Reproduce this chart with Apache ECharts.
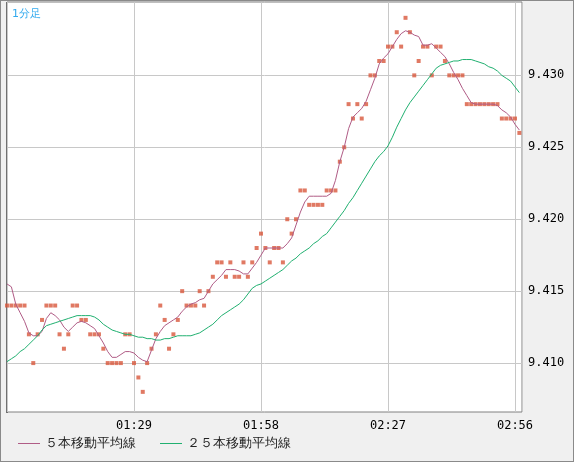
<!DOCTYPE html>
<html><head><meta charset="utf-8">
<script src="https://cdn.jsdelivr.net/npm/echarts@6/dist/echarts.min.js"></script>
<style>html,body{margin:0;padding:0;background:#f0f0f0}#c{width:574px;height:462px;box-sizing:border-box;border:1px solid #8a8a8a}</style>
</head><body><div id="c"></div>
<script>
const closes=[9.414,9.414,9.414,9.414,9.414,9.412,9.410,9.412,9.413,9.414,9.414,9.414,9.412,9.411,9.412,9.414,9.414,9.413,9.413,9.412,
9.412,9.412,9.411,9.410,9.410,9.410,9.410,9.412,9.412,9.410,9.409,9.408,9.410,9.411,9.412,9.414,9.413,9.411,9.412,9.413,
9.415,9.414,9.414,9.414,9.415,9.414,9.415,9.416,9.417,9.417,9.416,9.417,9.416,9.416,9.417,9.416,9.417,9.418,9.419,9.418,
9.417,9.418,9.418,9.417,9.420,9.419,9.420,9.422,9.422,9.421,9.421,9.421,9.421,9.422,9.422,9.422,9.424,9.425,9.428,9.427,
9.428,9.427,9.428,9.430,9.430,9.431,9.431,9.432,9.432,9.433,9.432,9.434,9.433,9.430,9.431,9.432,9.432,9.430,9.432,9.432,
9.431,9.430,9.430,9.430,9.430,9.428,9.428,9.428,9.428,9.428,9.428,9.428,9.428,9.427,9.427,9.427,9.427,9.426];
const ma5=[9.4155,9.4153,9.4141,9.4135,9.4129,9.4121,9.4119,9.4119,9.4122,9.4131,9.4135,9.4133,9.4130,9.4125,9.4122,9.4125,9.4128,9.4129,9.4128,9.4126,
9.4124,9.4119,9.4114,9.4108,9.4104,9.4104,9.4106,9.4108,9.4108,9.4107,9.4104,9.4102,9.4101,9.4109,9.4117,9.4122,9.4126,9.4128,9.4130,9.4132,
9.4136,9.4139,9.4141,9.4142,9.4144,9.4145,9.4150,9.4155,9.4158,9.4161,9.4165,9.4165,9.4165,9.4164,9.4162,9.4162,9.4166,9.4170,9.4175,9.4180,
9.4180,9.4180,9.4180,9.4180,9.4183,9.4187,9.4196,9.4205,9.4212,9.4216,9.4216,9.4216,9.4216,9.4216,9.4218,9.4227,9.4240,9.4250,9.4263,9.4271,
9.4274,9.4277,9.4282,9.4290,9.4298,9.4308,9.4312,9.4315,9.4320,9.4325,9.4329,9.4331,9.4330,9.4328,9.4327,9.4321,9.4321,9.4322,9.4319,9.4316,
9.4313,9.4308,9.4302,9.4297,9.4291,9.4286,9.4281,9.4280,9.4280,9.4280,9.4280,9.4280,9.4279,9.4276,9.4274,9.4271,9.4266,9.4262];
const ma25=[9.4101,9.4103,9.4105,9.4108,9.4110,9.4113,9.4116,9.4119,9.4123,9.4126,9.4127,9.4128,9.4129,9.4130,9.4131,9.4132,9.4133,9.4133,9.4133,9.4133,
9.4132,9.4130,9.4127,9.4125,9.4123,9.4122,9.4121,9.4120,9.4120,9.4119,9.4118,9.4118,9.4117,9.4117,9.4116,9.4116,9.4117,9.4117,9.4118,9.4119,
9.4119,9.4119,9.4119,9.4120,9.4121,9.4123,9.4125,9.4127,9.4130,9.4133,9.4135,9.4137,9.4139,9.4141,9.4144,9.4148,9.4152,9.4154,9.4155,9.4157,
9.4159,9.4161,9.4163,9.4165,9.4168,9.4171,9.4173,9.4176,9.4178,9.4180,9.4183,9.4185,9.4188,9.4190,9.4194,9.4198,9.4202,9.4206,9.4211,9.4215,
9.4220,9.4225,9.4230,9.4235,9.4240,9.4244,9.4247,9.4251,9.4257,9.4264,9.4270,9.4276,9.4281,9.4285,9.4289,9.4293,9.4297,9.4301,9.4305,9.4307,
9.4308,9.4309,9.4310,9.4310,9.4311,9.4311,9.4311,9.4310,9.4309,9.4308,9.4306,9.4305,9.4303,9.4300,9.4298,9.4296,9.4292,9.4288];
const startMinute=60; // 01:00
const yTicks=[9.410,9.415,9.420,9.425,9.430];
const names=['５本移動平均線','２５本移動平均線'];
const pair=a=>a.map((v,i)=>[i,v]);
const fmt=i=>{const m=startMinute+i;return String(Math.floor(m/60)).padStart(2,'0')+':'+String(m%60).padStart(2,'0');};
const font='DejaVu Sans';
const chart=echarts.init(document.getElementById('c'));
chart.setOption({
  animation:false,backgroundColor:'#f0f0f0',
  title:{text:'1分足',left:6,top:3,textStyle:{color:'#33aaee',fontSize:11,fontWeight:'normal',fontFamily:font}},
  grid:{left:6,right:51,top:1,bottom:49,show:true,backgroundColor:'#fff',borderColor:'#808080',borderWidth:1},
  legend:{left:12,bottom:6,itemWidth:22,itemHeight:1,itemGap:24,icon:'rect',textStyle:{fontSize:13,color:'#222',fontFamily:font},data:names},
  graphic:[{type:'line',shape:{x1:6,y1:1,x2:6,y2:412},style:{stroke:'#707070',lineWidth:2},silent:true}],
  xAxis:{type:'value',min:0,max:117.6,interval:29,
    axisLine:{show:false},axisTick:{show:false},
    axisLabel:{formatter:v=>v===0?'':fmt(v),color:'#000',fontSize:12,fontFamily:'DejaVu Sans Mono',margin:8,showMaxLabel:false},
    splitLine:{show:true,lineStyle:{color:'#c8c8c8'}}},
  yAxis:{type:'value',position:'right',min:9.4066,max:9.4351,
    axisLine:{show:false},axisTick:{show:false,customValues:yTicks},
    axisLabel:{customValues:yTicks,formatter:v=>v.toFixed(3),color:'#000',fontSize:12,fontFamily:'DejaVu Sans Mono',margin:6},
    splitLine:{show:true,lineStyle:{color:'#c8c8c8'}}},
  series:[
    {type:'scatter',data:pair(closes),symbol:'rect',symbolSize:4,itemStyle:{color:'#d8583c'},silent:true},
    {name:names[0],type:'line',data:pair(ma5),showSymbol:false,lineStyle:{width:1,color:'#b05c86'},itemStyle:{color:'#b05c86'}},
    {name:names[1],type:'line',data:pair(ma25),showSymbol:false,lineStyle:{width:1,color:'#20b070'},itemStyle:{color:'#20b070'}}
  ]
});
</script></body></html>
